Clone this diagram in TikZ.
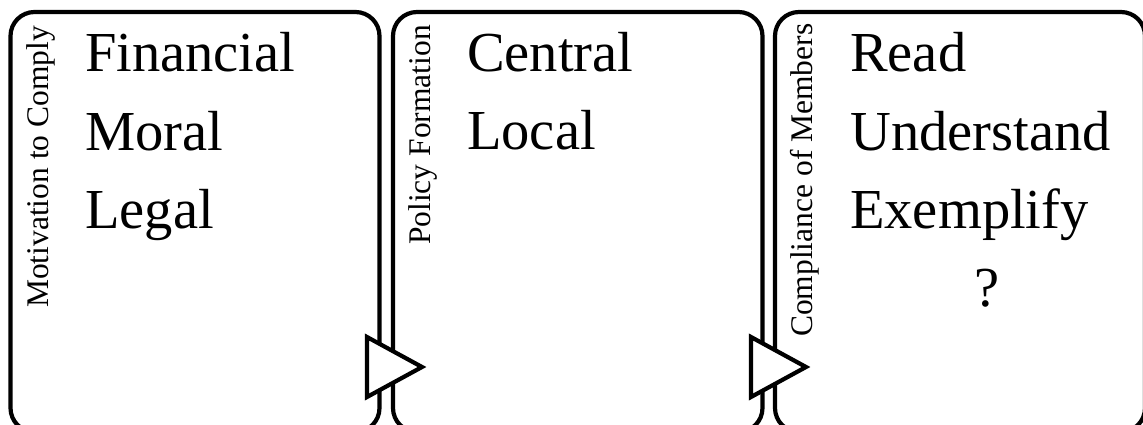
\documentclass[tikz,border=0pt]{standalone}
\usepackage{fontspec}
\setmainfont{Liberation Serif}
\begin{document}
\begin{tikzpicture}[x=1pt,y=-1pt,
  panel/.style={draw=black,line width=4.2pt,rounded corners=24pt},
  tri/.style={draw=black,fill=white,line width=4.2pt,line join=miter},
  side/.style={rotate=90,anchor=base west,inner sep=0pt,font=\fontsize{31.5}{34}\selectfont},
  item/.style={anchor=base west,inner sep=0pt,font=\fontsize{56.5}{60}\selectfont}]
\useasboundingbox (0,0) rectangle (1143,424);
\clip (0,0) rectangle (1143,424);
\draw[panel] (10.5,12) rectangle (379.5,432);
\draw[panel] (393,12) rectangle (762.5,432);
\draw[panel] (775,12) rectangle (1145,432);
\node[side] (s1) at (48,308) {Motivation to Comply};
\node[side] (s2) at (430,245) {Policy Formation};
\node[side] (s3) at (812,337) {Compliance of Members};
\node[item] (a1) at (85,71) {Financial};
\node[item] (a2) at (85,150) {Moral};
\node[item] (a3) at (85,228) {Legal};
\node[item] (b1) at (467,71) {Central};
\node[item] (b2) at (467,149) {Local};
\node[item] (c1) at (850,71) {Read};
\node[item] (c2) at (850,150) {Understand};
\node[item] (c3) at (850,228) {Exemplify};
\node[anchor=base,inner sep=0pt,font=\fontsize{56.5}{60}\selectfont] (c4) at (987,306) {?};
\draw[tri] (367,337) -- (367,397) -- (422,367) -- cycle;
\draw[tri] (751,337) -- (751,397) -- (806,367) -- cycle;
\end{tikzpicture}
\end{document}
